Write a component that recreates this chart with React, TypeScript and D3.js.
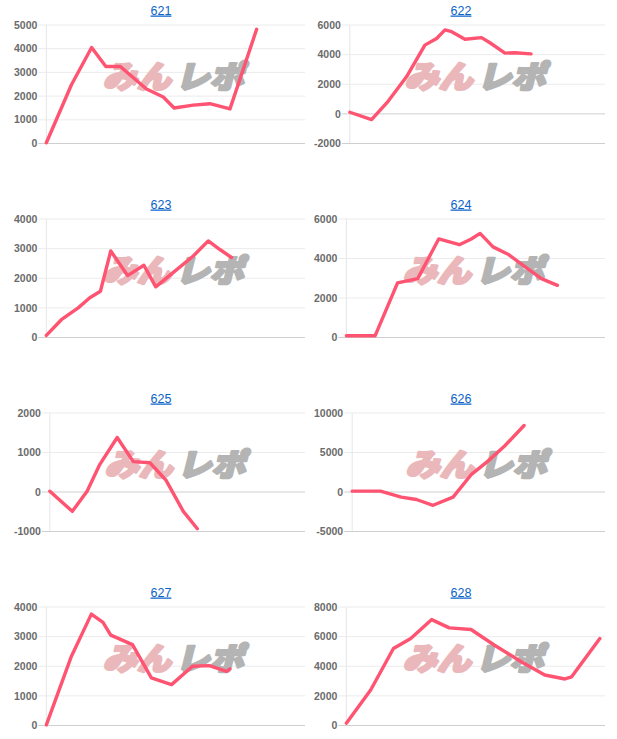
import React from "react";
import * as d3 from "d3";

// machine numbers (one small chart each)
const machines = ["621", "622", "623", "624", "625", "626", "627", "628"];

// games played (x) and coin difference (y)
const games621 = [0, 970, 1750, 2300, 2860, 3870, 4520, 4940, 5680, 6320, 7100, 8130];
const diff621 = [30, 2480, 4050, 3250, 3250, 2300, 1960, 1500, 1620, 1680, 1460, 4820];
const games622 = [0, 850, 1500, 2220, 2940, 3400, 3730, 3990, 4510, 5160, 5490, 6080, 6470, 7100];
const diff622 = [110, -390, 850, 2500, 4640, 5090, 5670, 5550, 5040, 5150, 4800, 4100, 4130, 4050];
const games623 = [0, 580, 1230, 1680, 2090, 2490, 3140, 3770, 4230, 4900, 5680, 6260, 6710, 7160];
const diff623 = [70, 600, 1000, 1340, 1560, 2920, 2090, 2440, 1710, 2190, 2750, 3260, 2970, 2700];
const games624 = [0, 1110, 1980, 2760, 3570, 4370, 4830, 5170, 5670, 6250, 6770, 7540, 8160];
const diff624 = [85, 85, 2770, 2980, 4990, 4700, 4990, 5270, 4590, 4220, 3710, 2980, 2640];
const games625 = [0, 880, 1460, 1960, 2640, 3270, 3920, 4550, 5230, 5780];
const diff625 = [20, -490, 20, 700, 1380, 770, 740, 300, -490, -930];
const games626 = [0, 1120, 1940, 2540, 3200, 3990, 4720, 5380, 6040, 6800];
const diff626 = [110, 110, -650, -950, -1680, -650, 2240, 3940, 5860, 8420];
const games627 = [0, 970, 1740, 2190, 2490, 3330, 4060, 4840, 5650, 6300, 6970, 7100];
const diff627 = [20, 2340, 3760, 3480, 3050, 2730, 1610, 1380, 2000, 2020, 1830, 1910];
const games628 = [0, 940, 1820, 2490, 3300, 3980, 4820, 5730, 6760, 7670, 8450, 8710, 9800];
const diff628 = [160, 2400, 5200, 5870, 7150, 6590, 6480, 5420, 4300, 3410, 3140, 3290, 5870];

const allGames = [games621, games622, games623, games624, games625, games626, games627, games628];
const allDiffs = [diff621, diff622, diff623, diff624, diff625, diff626, diff627, diff628];

// y axis ranges and tick steps
const yMins = [0, -2000, 0, 0, -1000, -5000, 0, 0];
const yMaxs = [5000, 6000, 4000, 6000, 2000, 10000, 4000, 8000];
const ySteps = [1000, 2000, 1000, 2000, 1000, 5000, 1000, 2000];
const maxGames = 10000;

const W = 617;
const H = 739;
const FS = 10.5;
const LINE = "#ff5372";

// rough Arial metrics, used to size the y axis like chart.js does
const textW = (s: string) =>
  s.split("").reduce((a, c) => a + (c === "-" ? 0.333 : 0.556) * FS, 0);

const Panel = ({ i }: { i: number }) => {
  const col = i % 2;
  const row = Math.floor(i / 2);
  const left = 8 + col * 300;
  const top = row * 194;
  const plotTop = top + 25;
  const plotBottom = plotTop + 118.5;
  const right = left + 297;

  const ticks = d3.range(yMins[i], yMaxs[i] + 1, ySteps[i]);
  const labelW = d3.max(ticks, (t) => textW(String(t))) || 0;
  const axisX = left + 6 + labelW + 9;

  const x = d3.scaleLinear().domain([0, maxGames]).range([axisX, right]);
  const y = d3.scaleLinear().domain([yMins[i], yMaxs[i]]).range([plotBottom, plotTop]);

  const pts = allGames[i].map((g, k) => [g, allDiffs[i][k]] as [number, number]);
  const line = d3
    .line<[number, number]>()
    .x((d) => x(d[0]))
    .y((d) => y(d[1]));

  const cx = (axisX + right) / 2;
  const titleX = left + 153;

  return (
    <g>
      <text
        x={titleX}
        y={top + 14.5}
        textAnchor="middle"
        fontSize={12.5}
        fill="#0b63c8"
        textDecoration="underline"
        fontFamily="'Liberation Sans', Arial, sans-serif"
      >
        {machines[i]}
      </text>
      <line x1={axisX} x2={axisX} y1={plotTop} y2={plotBottom} stroke="#e6e6e6" />
      {ticks.map((t) => (
        <g key={t}>
          <line
            x1={axisX - 8}
            x2={right}
            y1={y(t)}
            y2={y(t)}
            stroke={t === 0 || t === yMins[i] ? "#cfcfcf" : "#ebebeb"}
          />
          <text
            x={axisX - 9}
            y={y(t)}
            dy="0.35em"
            textAnchor="end"
            fontSize={FS}
            fontWeight="bold"
            fill="#6b6b6b"
            fontFamily="'Liberation Sans', Arial, sans-serif"
          >
            {t}
          </text>
        </g>
      ))}
      {/* site watermark behind the line */}
      <g
        transform={`translate(${cx},${top + 77}) skewX(-14)`}
        fontFamily="'Noto Sans CJK JP', sans-serif"
        fontWeight={900}
        fontSize={31}
        strokeWidth={2.6}
        strokeLinejoin="round"
      >
        <text
          x={-2}
          y={0}
          dy="0.36em"
          textAnchor="end"
          fill="#eab7ba"
          stroke="#eab7ba"
          textLength={68}
          lengthAdjust="spacingAndGlyphs"
        >
          みん
        </text>
        <text
          x={3}
          y={0}
          dy="0.36em"
          textAnchor="start"
          fill="#b4b4b4"
          stroke="#b4b4b4"
          textLength={68}
          lengthAdjust="spacingAndGlyphs"
        >
          レポ
        </text>
      </g>
      <path
        d={line(pts) || ""}
        fill="none"
        stroke={LINE}
        strokeWidth={3.4}
        strokeLinejoin="round"
        strokeLinecap="round"
      />
    </g>
  );
};

export default function App() {
  return (
    <svg
      width={W}
      height={H}
      style={{ position: "absolute", left: 0, top: 0, background: "#fff" }}
    >
      {machines.map((m, i) => (
        <Panel key={m} i={i} />
      ))}
    </svg>
  );
}
